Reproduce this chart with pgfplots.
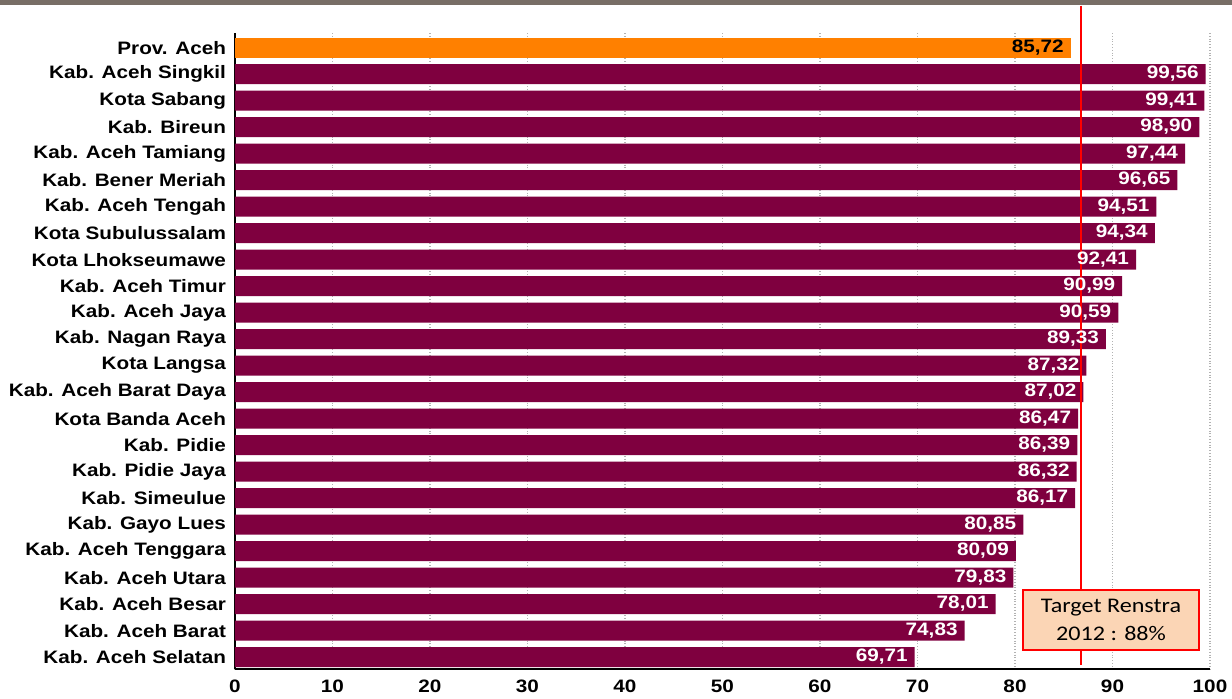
\documentclass[border=0pt]{standalone}
\usepackage{pgfplots}
\pgfplotsset{compat=1.18}
\usepackage{pgfplotstable}
\usepackage{fontspec}
\setmainfont[FakeStretch=1.15]{Liberation Sans}
\newfontfamily\boxfont[FakeStretch=1.16]{Carlito}
\definecolor{maroon}{RGB}{127,0,63}
\definecolor{orangebar}{RGB}{255,128,0}
\definecolor{peach}{RGB}{251,213,181}
\definecolor{stripe}{RGB}{120,110,102}

\pgfplotstableread{
idx val lab
0 85.72 85,72
}\provdata

\pgfplotstableread{
idx val lab
1 99.56 99,56
2 99.41 99,41
3 98.90 98,90
4 97.44 97,44
5 96.65 96,65
6 94.51 94,51
7 94.34 94,34
8 92.41 92,41
9 90.99 90,99
10 90.59 90,59
11 89.33 89,33
12 87.32 87,32
13 87.02 87,02
14 86.47 86,47
15 86.39 86,39
16 86.32 86,32
17 86.17 86,17
18 80.85 80,85
19 80.09 80,09
20 79.83 79,83
21 78.01 78,01
22 74.83 74,83
23 69.71 69,71
}\kabdata

\begin{document}
\begin{tikzpicture}
\useasboundingbox (-117.5pt,-14.5pt) rectangle (498.5pt,334.5pt);
\fill[stripe] (-117.5pt,332pt) rectangle (498.5pt,334.5pt);
\begin{axis}[
  at={(0,0)}, anchor=south west,
  scale only axis,
  width=487.5pt, height=318pt,
  xmin=0, xmax=100,
  ymin=-0.55, ymax=23.45,
  y dir=reverse,
  axis x line*=bottom,
  axis y line*=left,
  axis line style={black, line width=1pt},
  xtick={0,10,...,100},
  ytick={0,...,23},
  yticklabels={Prov. Aceh, Kab. Aceh Singkil, Kota Sabang, Kab. Bireun, Kab. Aceh Tamiang, Kab. Bener Meriah, Kab. Aceh Tengah, Kota Subulussalam, Kota Lhokseumawe, Kab. Aceh Timur, Kab. Aceh Jaya, Kab. Nagan Raya, Kota Langsa, Kab. Aceh Barat Daya, Kota Banda Aceh, Kab. Pidie, Kab. Pidie Jaya, Kab. Simeulue, Kab. Gayo Lues, Kab. Aceh Tenggara, Kab. Aceh Utara, Kab. Aceh Besar, Kab. Aceh Barat, Kab. Aceh Selatan},
  major tick length=0pt,
  xmajorgrids,
  grid style={densely dotted, gray!60, line width=0.6pt},
  /pgf/number format/assume math mode=true,
  tick label style={font=\fontsize{9}{10}\selectfont\bfseries, black},
  xticklabel style={yshift=-2pt},
  yticklabel style={xshift=-1pt},
  xbar, bar width=10pt, bar shift=0pt,
  clip=false,
  point meta=explicit symbolic,
  nodes near coords,
  nodes near coords style={font=\fontsize{9}{10}\selectfont\bfseries},
]
\addplot[fill=orangebar, draw=none,
  every node near coord/.append style={anchor=east, text=black}]
  table[x=val, y=idx, meta=lab] {\provdata};
\addplot[fill=maroon, draw=none,
  every node near coord/.append style={anchor=east, text=white}]
  table[x=val, y=idx, meta=lab] {\kabdata};
\draw[red, line width=1pt] (axis cs:86.77,-1.58) -- (axis cs:86.77,23.3);
\node[draw=red, line width=1pt, fill=peach, minimum width=88pt, minimum height=30pt,
  align=center, inner sep=0pt, font=\boxfont\fontsize{10.4}{14}\selectfont]
  at (axis cs:89.85,21.6) {Target Renstra\\2012 : 88\%};
\end{axis}
\end{tikzpicture}
\end{document}
